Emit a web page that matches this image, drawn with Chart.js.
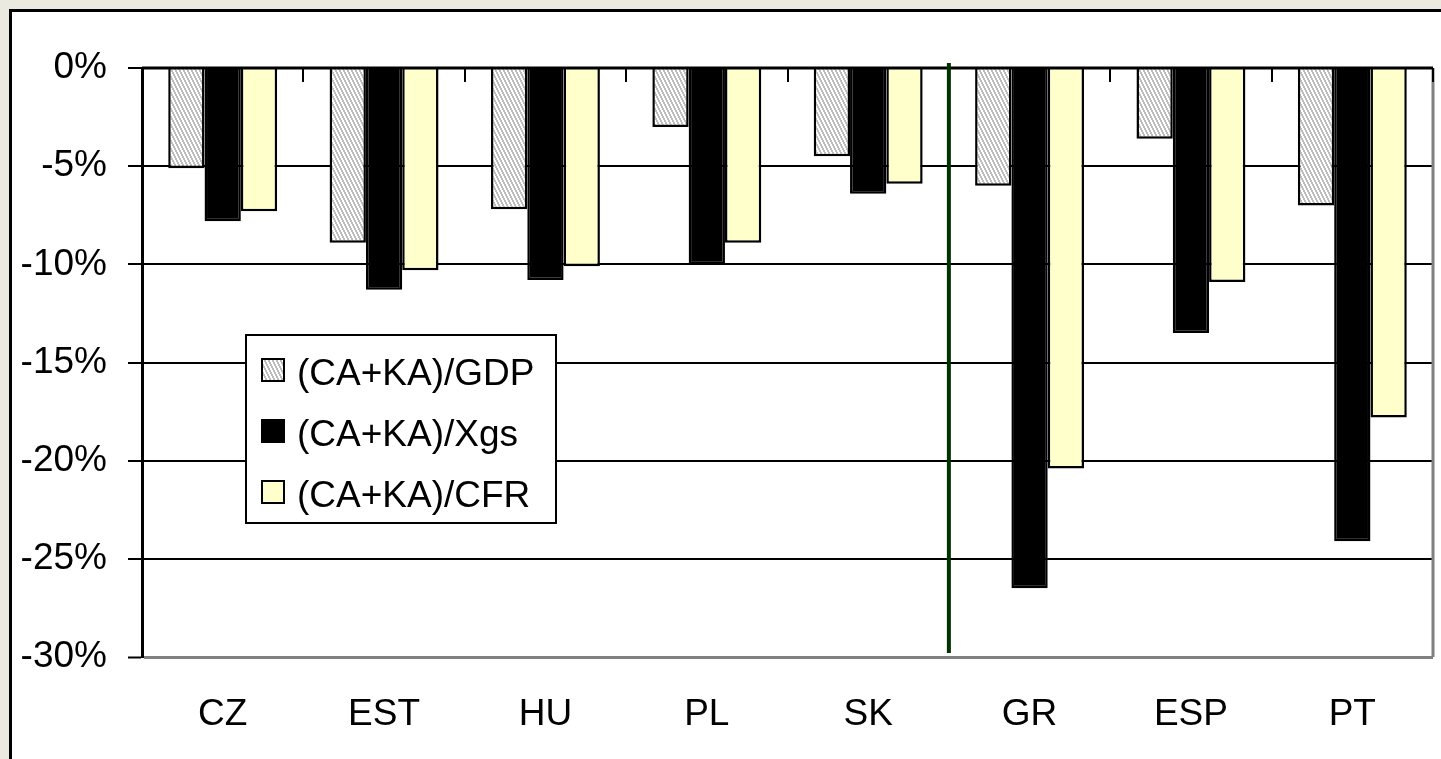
<!DOCTYPE html>
<html>
<head>
<meta charset="utf-8">
<script src="https://cdn.jsdelivr.net/npm/chart.js@4"></script>
<style>
  html, body { margin: 0; padding: 0; background: #ebeae0; overflow: hidden; }
  #frame { position: absolute; left: 9px; top: 9px; width: 1440px; height: 760px;
           background: #fff; border: 3px solid #000; box-sizing: border-box; }
  #c { position: absolute; left: 0; top: 0; }
</style>
</head>
<body>
<div id="frame"></div>
<canvas id="c" width="1441" height="759" style="width:1441px;height:759px"></canvas>
<script>
// Countries
const categories = ['CZ', 'EST', 'HU', 'PL', 'SK', 'GR', 'ESP', 'PT'];

// Balance (current + capital account) relative to different bases, in %
const caKaGdp = [-5.1, -8.9, -7.2, -3.0, -4.5, -6.0, -3.6, -7.0];
const caKaXgs = [-7.8, -11.3, -10.8, -10.0, -6.4, -26.5, -13.5, -24.1];
const caKaCfr = [-7.3, -10.3, -10.1, -8.9, -5.9, -20.4, -10.9, -17.8];

const seriesLabels = ['(CA+KA)/GDP', '(CA+KA)/Xgs', '(CA+KA)/CFR'];

// y axis ticks
const yTicks = [0, -5, -10, -15, -20, -25, -30];

// The divider separates the new member states from the euro-area periphery
const dividerAfterIndex = 4;

const FONT = '"Liberation Sans", Arial, sans-serif';

// Light grey steep diagonal hatch fill
function makeHatch() {
  const t = document.createElement('canvas');
  t.width = 4; t.height = 8;
  const g = t.getContext('2d');
  g.fillStyle = '#ffffff';
  g.fillRect(0, 0, 4, 8);
  g.fillStyle = '#bdbdbd';
  for (let y = 0; y < 8; y++) {
    const x = Math.floor(y / 2);
    g.fillRect(x, y, 2, 1);
    if (x + 2 > 4) g.fillRect(x - 4, y, 2, 1);
  }
  return g.createPattern(t, 'repeat');
}

const ctx = document.getElementById('c').getContext('2d');
const hatch = makeHatch();
const fills = [hatch, '#000000', '#ffffcc'];

const extras = {
  id: 'extras',
  afterDatasetsDraw(chart) {
    const { ctx, chartArea: a, scales: { x, y } } = chart;
    const y0 = y.getPixelForValue(0);
    const yMin = y.getPixelForValue(-30);
    ctx.save();

    // right border of the plot area
    ctx.strokeStyle = '#808080';
    ctx.lineWidth = 3;
    ctx.beginPath();
    ctx.moveTo(a.right, a.top);
    ctx.lineTo(a.right, yMin);
    ctx.stroke();

    // zero line (category axis)
    ctx.strokeStyle = '#000';
    ctx.lineWidth = 3;
    ctx.beginPath();
    ctx.moveTo(a.left, y0);
    ctx.lineTo(a.right, y0);
    ctx.stroke();

    // category tick marks hanging from the zero line
    ctx.lineWidth = 2;
    for (let i = 0; i <= categories.length; i++) {
      const px = Math.round(x.getPixelForValue(i - 0.5));
      ctx.beginPath();
      ctx.moveTo(px, y0);
      ctx.lineTo(px, y0 + 14);
      ctx.stroke();
    }

    // green divider
    const dx = x.getPixelForValue(dividerAfterIndex + 0.5);
    ctx.strokeStyle = '#003300';
    ctx.lineWidth = 4;
    ctx.beginPath();
    ctx.moveTo(dx, y0 - 5);
    ctx.lineTo(dx, yMin - 4);
    ctx.stroke();

    // legend box inside the plot area
    const lx = a.left + 104, ly = a.top + 267, lw = 310, lh = 188;
    ctx.fillStyle = '#fff';
    ctx.fillRect(lx, ly, lw, lh);
    ctx.strokeStyle = '#000';
    ctx.lineWidth = 2;
    ctx.strokeRect(lx, ly, lw, lh);
    ctx.font = '37px ' + FONT;
    ctx.textBaseline = 'alphabetic';
    ctx.textAlign = 'left';
    chart.data.datasets.forEach((ds, i) => {
      const cy = ly + 35 + i * 61;
      ctx.fillStyle = ds.backgroundColor;
      ctx.fillRect(lx + 16, cy - 11, 22, 22);
      ctx.strokeStyle = '#000';
      ctx.lineWidth = 2;
      ctx.strokeRect(lx + 16, cy - 11, 22, 22);
      ctx.fillStyle = '#000';
      ctx.fillText(ds.label, lx + 51, cy + 15);
    });
    ctx.restore();
  }
};

new Chart(ctx, {
  type: 'bar',
  data: {
    labels: categories,
    datasets: [caKaGdp, caKaXgs, caKaCfr].map((d, i) => ({
      label: seriesLabels[i],
      data: d,
      backgroundColor: fills[i],
      borderColor: '#000',
      borderWidth: 2.5,
      borderSkipped: 'start',
      barPercentage: 1.0,
      categoryPercentage: 0.675
    }))
  },
  options: {
    responsive: false,
    animation: false,
    devicePixelRatio: 1,
    layout: { padding: { left: 0, top: 68, right: 8, bottom: 0 } },
    plugins: { legend: { display: false }, tooltip: { enabled: false } },
    scales: {
      x: {
        grid: { display: false, drawTicks: false },
        border: { display: false },
        ticks: { color: '#000', font: { family: FONT, size: 37 }, padding: 36, maxRotation: 0 },
        afterFit(s) { s.height = 102; }
      },
      y: {
        min: -30, max: 0,
        afterBuildTicks(s) { s.ticks = yTicks.map(v => ({ value: v })); },
        ticks: {
          color: '#000',
          font: { family: FONT, size: 37 },
          padding: 21,
          callback: v => v + '%'
        },
        grid: {
          color: c => (c.tick && c.tick.value === -30) ? '#808080' : '#000',
          lineWidth: c => (c.tick && c.tick.value === -30) ? 3 : 2,
          tickLength: 14,
          tickColor: '#000',
          tickWidth: 2
        },
        border: { color: '#000', width: 3 },
        afterFit(s) { s.width = 142; }
      }
    }
  },
  plugins: [extras]
});
</script>
</body>
</html>
